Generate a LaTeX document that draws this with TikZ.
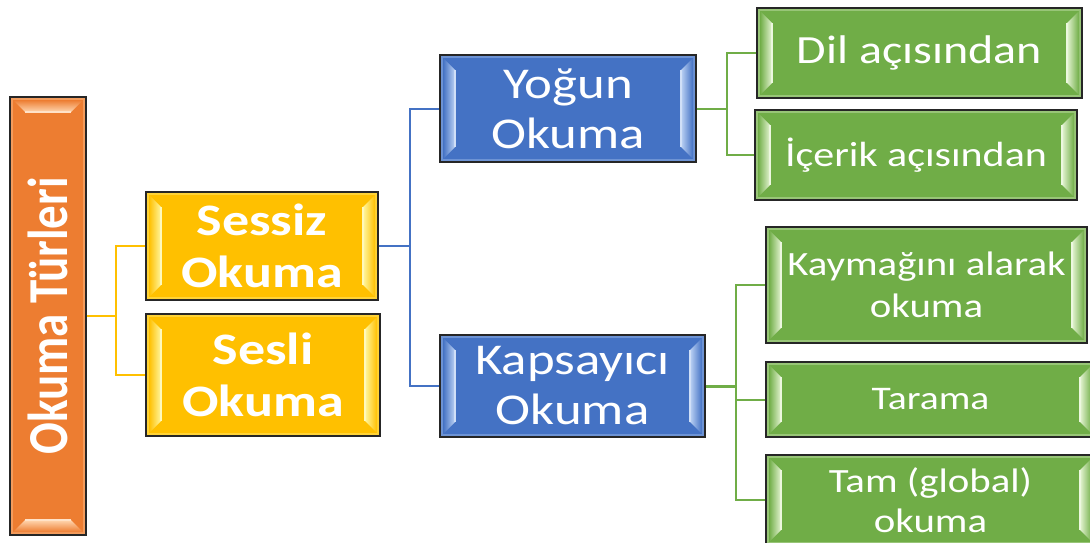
\documentclass[tikz,border=0pt]{standalone}
\usepackage{fontspec}
\usepackage{graphicx}
\setmainfont{Carlito}
\newfontfamily\wf[FakeStretch=1.2]{Carlito}
\usetikzlibrary{calc}
\definecolor{cOr}{HTML}{ED7D31}
\definecolor{cOrL}{HTML}{FFD6B0}
\definecolor{cYe}{HTML}{FFC000}
\definecolor{cYeL}{HTML}{FFF7A0}
\definecolor{cBl}{HTML}{4472C4}
\definecolor{cBlL}{HTML}{BCD2F4}
\definecolor{cGr}{HTML}{70AD47}
\definecolor{cGrL}{HTML}{E4F4D2}
\tikzset{
  hbox/.style 2 args={draw=black!85, line width=1.3pt, fill=#1, text=white, align=center, inner sep=0pt,
    path picture={
      \draw[#2, opacity=.35, line width=3pt]
        ($(path picture bounding box.south west)+(1.5pt,1.5pt)$) rectangle
        ($(path picture bounding box.north east)+(-1.5pt,-1.5pt)$);
      \shade[left color=#1, right color=#2]
        ($(path picture bounding box.south west)+(3pt,3pt)$) --
        ($(path picture bounding box.south west)+(15pt,15pt)$) --
        ($(path picture bounding box.north west)+(15pt,-15pt)$) --
        ($(path picture bounding box.north west)+(3pt,-3pt)$) -- cycle;
      \draw[#2!70!white, line width=1.2pt]
        ($(path picture bounding box.south west)+(15pt,15pt)$) --
        ($(path picture bounding box.north west)+(15pt,-15pt)$);
      \shade[left color=#2, right color=#1]
        ($(path picture bounding box.south east)+(-3pt,3pt)$) --
        ($(path picture bounding box.south east)+(-15pt,15pt)$) --
        ($(path picture bounding box.north east)+(-15pt,-15pt)$) --
        ($(path picture bounding box.north east)+(-3pt,-3pt)$) -- cycle;
      \draw[#2!70!white, line width=1.2pt]
        ($(path picture bounding box.south east)+(-15pt,15pt)$) --
        ($(path picture bounding box.north east)+(-15pt,-15pt)$);
    }},
  vbox/.style 2 args={draw=black!85, line width=1.3pt, fill=#1, text=white, align=center, inner sep=0pt,
    path picture={
      \draw[#2, opacity=.35, line width=3pt]
        ($(path picture bounding box.south west)+(1.5pt,1.5pt)$) rectangle
        ($(path picture bounding box.north east)+(-1.5pt,-1.5pt)$);
      \shade[top color=#1, bottom color=#2]
        ($(path picture bounding box.north west)+(3pt,-3pt)$) --
        ($(path picture bounding box.north west)+(15pt,-15pt)$) --
        ($(path picture bounding box.north east)+(-15pt,-15pt)$) --
        ($(path picture bounding box.north east)+(-3pt,-3pt)$) -- cycle;
      \draw[#2!70!white, line width=1.2pt]
        ($(path picture bounding box.north west)+(15pt,-15pt)$) --
        ($(path picture bounding box.north east)+(-15pt,-15pt)$);
      \shade[top color=#2, bottom color=#1]
        ($(path picture bounding box.south west)+(3pt,3pt)$) --
        ($(path picture bounding box.south west)+(15pt,15pt)$) --
        ($(path picture bounding box.south east)+(-15pt,15pt)$) --
        ($(path picture bounding box.south east)+(-3pt,3pt)$) -- cycle;
      \draw[#2!70!white, line width=1.2pt]
        ($(path picture bounding box.south west)+(15pt,15pt)$) --
        ($(path picture bounding box.south east)+(-15pt,15pt)$);
    }},
  oline/.style={draw=cYe, line width=2pt},
  bline/.style={draw=cBl, line width=2pt},
  gline/.style={draw=cGr, line width=2pt},
}
\begin{document}
\begin{tikzpicture}[x=1pt,y=-1pt]
\useasboundingbox (0,0) rectangle (1090,543);
\clip (0,0) rectangle (1090,543);
% nodes
\node[vbox={cOr}{cOrL}, minimum width=76pt, minimum height=438pt] (tur) at (48,316)
  {\rotatebox{90}{\scalebox{1}[1.2]{\bfseries\fontsize{47}{52}\selectfont Okuma Türleri}}};
\node[hbox={cYe}{cYeL}, minimum width=232pt, minimum height=108pt, font=\wf\bfseries\fontsize{45}{52}\selectfont] (sessiz) at (262,246) {Sessiz\\Okuma};
\node[hbox={cYe}{cYeL}, minimum width=234pt, minimum height=122pt, font=\wf\bfseries\fontsize{45}{52}\selectfont] (sesli) at (263,375) {Sesli\\Okuma};
\node[hbox={cBl}{cBlL}, minimum width=256pt, minimum height=107pt, font=\wf\fontsize{44}{50}\selectfont] (yogun) at (568,108.5) {Yoğun\\Okuma};
\node[hbox={cBl}{cBlL}, minimum width=265pt, minimum height=102pt, font=\wf\fontsize{44}{50}\selectfont] (kaps) at (572.5,386) {Kapsayıcı\\Okuma};
\node[hbox={cGr}{cGrL}, minimum width=325pt, minimum height=90pt, font=\wf\fontsize{40}{46}\selectfont] (dil) at (919.5,53) {Dil açısından};
\node[hbox={cGr}{cGrL}, minimum width=322pt, minimum height=90pt, font=\wf\fontsize{35}{41}\selectfont] (icerik) at (916,155) {İçerik açısından};
\node[hbox={cGr}{cGrL}, minimum width=321pt, minimum height=116pt, font=\wf\fontsize{34}{42}\selectfont] (kaym) at (926.5,285) {Kaymağını alarak\\okuma};
\node[hbox={cGr}{cGrL}, minimum width=329pt, minimum height=75pt, font=\wf\fontsize{33}{40}\selectfont] (tarama) at (930.5,399.5) {Tarama};
\node[hbox={cGr}{cGrL}, minimum width=329pt, minimum height=90pt, font=\wf\fontsize{34}{40}\selectfont] (tam) at (930.5,500) {Tam (global)\\okuma};
% connectors
\draw[oline] (tur.east) -- ++(29,0) coordinate (oj);
\draw[oline] (sessiz.west) -| (oj) |- (sesli.west);
\draw[bline, line width=2.8pt] (sessiz.east) -- ++(31,0) coordinate (bj);
\draw[bline] (yogun.west) -| (bj) |- (kaps.west);
\draw[gline] (yogun.east) -- ++(30,0) coordinate (gj1);
\draw[gline] (dil.west) -| (gj1) |- (icerik.west);
\draw[gline, line width=3pt] (kaps.east) -- ++(30,0) coordinate (gj2);
\draw[gline] (kaym.west) -| (gj2) |- (tam.west);
\draw[gline] (gj2 |- tarama.west) -- (tarama.west);
\end{tikzpicture}
\end{document}
